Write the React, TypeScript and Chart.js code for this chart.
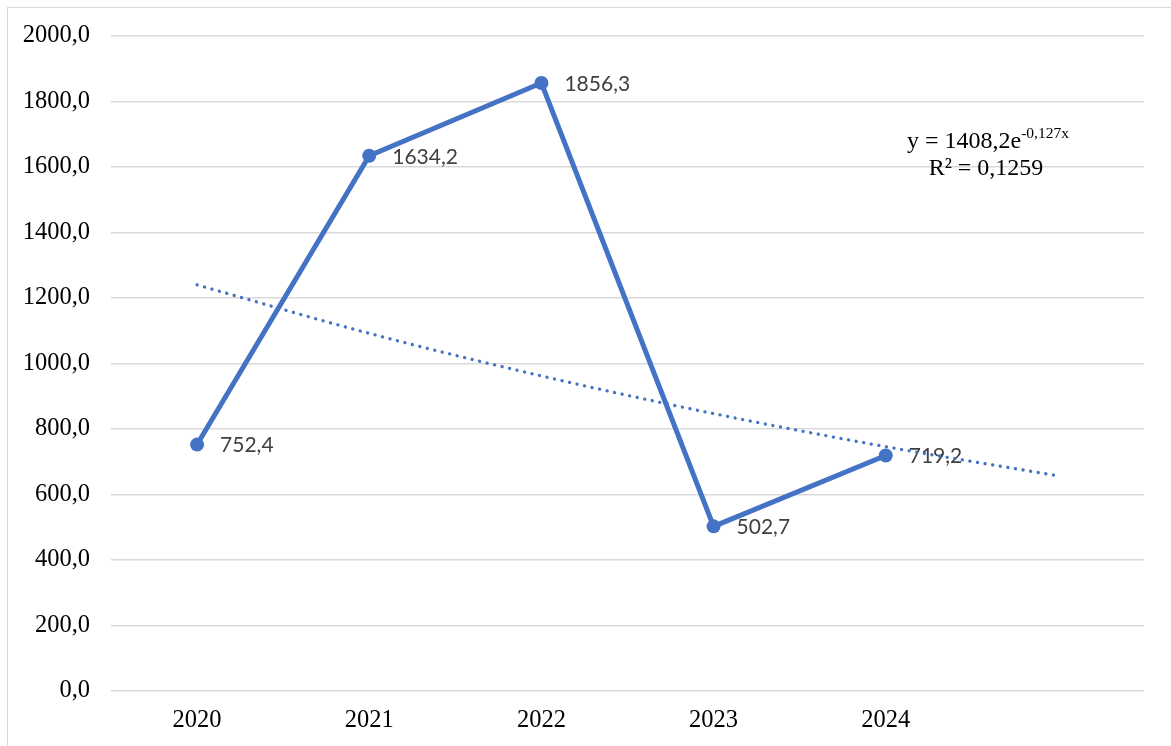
import React, { useEffect, useRef } from "react";
import { Chart, registerables } from "chart.js";

Chart.register(...registerables);

const categories = ["2020", "2021", "2022", "2023", "2024", ""];
const seriesValues: (number | null)[] = [752.4, 1634.2, 1856.3, 502.7, 719.2, null];
const seriesLabels = ["752,4", "1634,2", "1856,3", "502,7", "719,2"];
const trendValues = [1240, 1092, 962, 847, 746, 657];
const equationMain = "y = 1408,2e";
const equationExp = "-0,127x";
const equationR2 = "R² = 0,1259";

const BLUE = "#4472C4";
const GRID = "#d9d9d9";
const SERIF = "'Liberation Serif', 'Times New Roman', serif";
const SANS = "Lato, 'Open Sans', sans-serif";

const fmt = (v: number) => v.toFixed(1).replace(".", ",");

export default function App() {
  const ref = useRef<HTMLCanvasElement | null>(null);

  useEffect(() => {
    if (!ref.current) return;
    const labelPlugin = {
      id: "pointLabels",
      afterDatasetDraw(chart: any, args: any) {
        if (args.index !== 0) return;
        const ctx = chart.ctx;
        const meta = chart.getDatasetMeta(0);
        ctx.save();
        ctx.font = `21px ${SANS}`;
        ctx.fillStyle = "#404040";
        ctx.textAlign = "left";
        ctx.textBaseline = "middle";
        meta.data.forEach((pt: any, i: number) => {
          if (seriesValues[i] == null) return;
          ctx.fillText(seriesLabels[i], pt.x + 23, pt.y + 1);
        });
        ctx.restore();
      },
    };
    const eqPlugin = {
      id: "equation",
      afterDraw(chart: any) {
        const ctx = chart.ctx;
        const area = chart.chartArea;
        const cx = area.right - 156;
        const y1 = area.top + 106;
        ctx.save();
        ctx.fillStyle = "#000";
        ctx.textBaseline = "middle";
        ctx.textAlign = "left";
        ctx.font = `24px ${SERIF}`;
        const w1 = ctx.measureText(equationMain).width;
        ctx.font = `15.5px ${SERIF}`;
        const w2 = ctx.measureText(equationExp).width;
        const start = cx - (w1 + w2) / 2;
        ctx.font = `24px ${SERIF}`;
        ctx.fillText(equationMain, start, y1);
        ctx.font = `15.5px ${SERIF}`;
        ctx.fillText(equationExp, start + w1, y1 - 8);
        ctx.font = `24px ${SERIF}`;
        ctx.textAlign = "center";
        ctx.fillText(equationR2, cx - 2, y1 + 27);
        ctx.restore();
      },
    };
    const chart = new Chart(ref.current, {
      type: "line",
      data: {
        labels: categories,
        datasets: [
          {
            data: seriesValues,
            borderColor: BLUE,
            backgroundColor: BLUE,
            borderWidth: 5,
            pointRadius: 7,
            pointHoverRadius: 7,
            pointBackgroundColor: BLUE,
            pointBorderWidth: 0,
            tension: 0,
            order: 1,
            spanGaps: false,
          },
          {
            data: trendValues,
            borderColor: BLUE,
            borderWidth: 3.3,
            borderDash: [0.1, 7.6],
            borderCapStyle: "round",
            pointRadius: 0,
            cubicInterpolationMode: "monotone",
            tension: 0.4,
            order: 0,
          },
        ],
      },
      options: {
        animation: false,
        responsive: false,
        maintainAspectRatio: false,
        layout: { padding: { left: 0, top: 36, right: 27, bottom: 0 } },
        plugins: {
          legend: { display: false },
          tooltip: { enabled: false },
          title: { display: false },
        },
        scales: {
          x: {
            offset: true,
            grid: { display: false, drawTicks: false },
            border: { display: false },
            ticks: {
              color: "#000",
              font: { family: SERIF, size: 24.5 },
              padding: 15,
              maxRotation: 0,
              autoSkip: false,
            },
            afterFit(scale: any) {
              scale.height = 55;
            },
          },
          y: {
            min: 0,
            max: 2000,
            grid: { color: GRID, lineWidth: 1.5, drawTicks: false },
            border: { display: false },
            ticks: {
              stepSize: 200,
              color: "#000",
              font: { family: SERIF, size: 24.5 },
              padding: 21,
              callback: (v: any) => fmt(Number(v)),
            },
            afterFit(scale: any) {
              scale.width = 111;
            },
          },
        },
      },
      plugins: [labelPlugin, eqPlugin],
    } as any);
    return () => chart.destroy();
  }, []);

  return (
    <div style={{ position: "fixed", left: 0, top: 0, width: 1171, height: 746, background: "#fff", overflow: "hidden" }}>
      <div
        style={{
          position: "absolute",
          left: 7,
          top: 7,
          width: 2000,
          height: 2000,
          borderLeft: `1px solid ${GRID}`,
          borderTop: `1px solid ${GRID}`,
        }}
      />
      <canvas ref={ref} width={1171} height={746} style={{ position: "absolute", left: 0, top: 0, display: "block" }} />
    </div>
  );
}
